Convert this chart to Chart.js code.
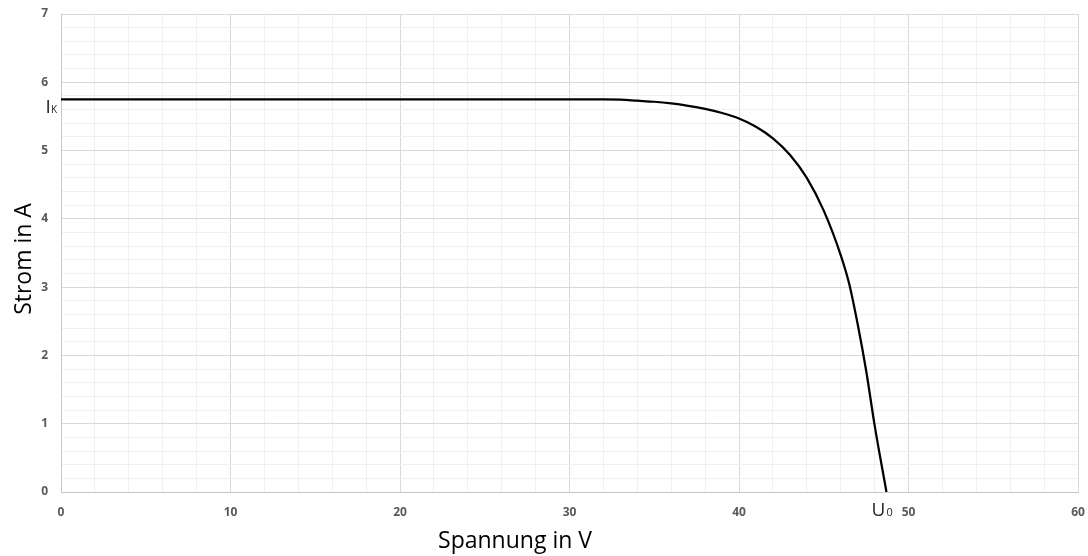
<!DOCTYPE html>
<html>
<head>
<meta charset="utf-8">
<script src="https://cdn.jsdelivr.net/npm/chart.js@4"></script>
<style>
  html, body { margin: 0; padding: 0; background: #fff; }
  #wrap { width: 1088px; height: 556px; position: relative; }
</style>
</head>
<body>
<div id="wrap"><canvas id="ivChart"></canvas></div>
<script>
// I-U Kennlinie (Spannung in V, Strom in A)
const voltage = [0, 10, 20, 30, 32, 33, 34, 35, 36, 37, 38, 39, 40, 41, 42, 43, 44, 45, 46, 46.5, 47, 47.5, 48, 48.7];
const current = [5.75, 5.75, 5.75, 5.75, 5.75, 5.745, 5.73, 5.715, 5.69, 5.655, 5.61, 5.55, 5.47, 5.35, 5.18, 4.94, 4.6, 4.12, 3.47, 3.05, 2.46, 1.78, 0.98, 0];

const shortCircuit = 5.75; // I_K
const openCircuit = 48.7;  // U_0

const xMax = 60;
const yMax = 7;

const xTitle = "Spannung in V";
const yTitle = "Strom in A";

const isWhole = (v) => Math.abs(v - Math.round(v)) < 1e-6;

// keine automatische Randreserve fuer die Tick-Beschriftung
const fixPadding = (scale) => {
  scale.paddingTop = 0;
  scale.paddingBottom = 0;
  scale.paddingLeft = 0;
  scale.paddingRight = 0;
};

// Achsentitel und Beschriftung I_K / U_0
const markerLabels = {
  id: "markerLabels",
  afterDraw(chart) {
    const { ctx, scales } = chart;
    const x = scales.x;
    const y = scales.y;
    ctx.save();
    ctx.fillStyle = "#000000";

    // Achsentitel
    ctx.font = "23px 'Open Sans'";
    ctx.textAlign = "center";
    ctx.textBaseline = "alphabetic";
    ctx.fillText(xTitle, 515, 548);
    ctx.save();
    ctx.translate(31, 259);
    ctx.rotate(-Math.PI / 2);
    ctx.fillText(yTitle, 0, 0);
    ctx.restore();

    ctx.fillStyle = "#262626";

    // I_K links neben der Kurve
    const ix = x.getPixelForValue(0) - 4;
    const iy = y.getPixelForValue(shortCircuit) + 14;
    ctx.font = "10px 'Open Sans'";
    const kW = ctx.measureText("K").width;
    ctx.textAlign = "right";
    ctx.fillText("K", ix, iy);
    ctx.font = "19px 'Open Sans'";
    ctx.fillText("I", ix - kW, iy);

    // U_0 unter dem Nulldurchgang
    const ux = x.getPixelForValue(openCircuit) - 1;
    const uy = y.getPixelForValue(0) + 24;
    ctx.font = "19px 'Open Sans'";
    ctx.textAlign = "right";
    ctx.fillText("U", ux, uy);
    ctx.font = "11px 'Open Sans'";
    ctx.textAlign = "left";
    ctx.fillText("0", ux + 1, uy);
    ctx.restore();
  },
};

const points = voltage.map((v, i) => ({ x: v, y: current[i] }));

new Chart(document.getElementById("ivChart"), {
  type: "scatter",
  data: {
    datasets: [
      {
        label: "Strom",
        data: points,
        showLine: true,
        cubicInterpolationMode: "monotone",
        borderColor: "#000000",
        borderWidth: 2.25,
        pointRadius: 0,
        pointHoverRadius: 0,
      },
    ],
  },
  options: {
    responsive: true,
    maintainAspectRatio: false,
    animation: false,
    layout: {
      padding: { left: 0, right: 10, top: 14, bottom: 0 },
    },
    plugins: {
      legend: { display: false },
      tooltip: { enabled: false },
    },
    scales: {
      x: {
        type: "linear",
        min: 0,
        max: xMax,
        afterFit: (scale) => {
          scale.height = 64;
          fixPadding(scale);
        },
        border: { color: "#c8c8c8", width: 1 },
        grid: {
          drawTicks: false,
          color: (c) => (isWhole(c.tick.value / 10) ? "#d9d9d9" : "#f0f0f0"),
        },
        ticks: {
          stepSize: 2,
          autoSkip: false,
          maxRotation: 0,
          padding: 13,
          color: "#595959",
          font: { family: "'Open Sans'", size: 12, weight: "bold" },
          callback: (v) => (isWhole(v / 10) ? String(Math.round(v)) : ""),
        },
      },
      y: {
        type: "linear",
        min: 0,
        max: yMax,
        afterFit: (scale) => {
          scale.width = 61;
          fixPadding(scale);
        },
        border: { color: "#c8c8c8", width: 1 },
        grid: {
          drawTicks: false,
          color: (c) => (isWhole(c.tick.value) ? "#d9d9d9" : "#f0f0f0"),
        },
        ticks: {
          stepSize: 0.2,
          autoSkip: false,
          padding: 13,
          color: "#595959",
          font: { family: "'Open Sans'", size: 12, weight: "bold" },
          callback: (v) => (isWhole(v) ? String(Math.round(v)) : ""),
        },
      },
    },
  },
  plugins: [markerLabels],
});
</script>
</body>
</html>
